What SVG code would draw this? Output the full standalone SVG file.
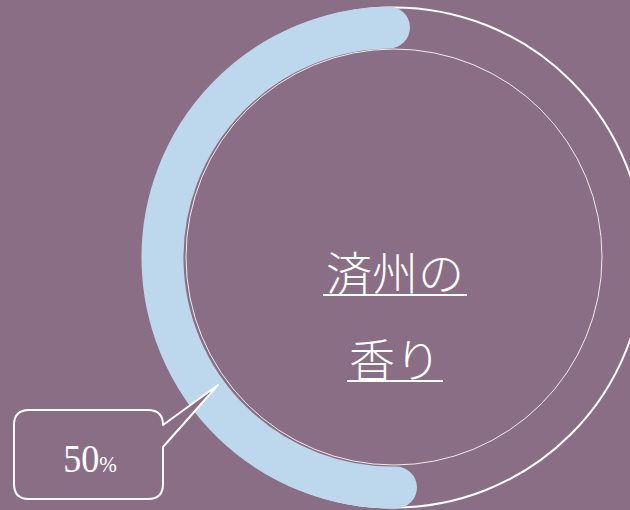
<svg xmlns="http://www.w3.org/2000/svg" width="630" height="510" viewBox="0 0 630 510">
  <style>
    .ring { fill: none; stroke: #ffffff; }
    .title { font-family: "Noto Sans CJK JP", "Noto Sans CJK SC", sans-serif; font-size: 46px; font-weight: 300; fill: #ffffff; text-anchor: middle; }
    .uline { stroke: #ffffff; stroke-width: 2; }
    .callout { fill: #8a6e85; stroke: #ffffff; stroke-width: 2; stroke-linejoin: round; }
    .num { font-family: "Liberation Serif", "Times New Roman", serif; fill: #ffffff; }
  </style>
  <rect x="0" y="0" width="630" height="510" fill="#8a6e85"/>
  <g id="outer-ring">
    <circle class="ring" cx="394" cy="257.5" r="250" stroke-width="2"/>
  </g>
  <g id="inner-ring">
    <circle class="ring" cx="394" cy="257" r="208" stroke-width="1" stroke-opacity="0.85"/>
  </g>
  <g id="progress-arc">
    <path d="M 389 27.5 A 230 230 0 0 0 396 487.5" fill="none" stroke="#bdd7ec" stroke-width="42" stroke-linecap="round"/>
  </g>
  <g id="center-label">
    <text class="title" x="395" y="290">済州の</text>
    <line class="uline" x1="323" y1="295" x2="467" y2="295"/>
    <text class="title" x="395" y="377">香り</text>
    <line class="uline" x1="347" y1="381" x2="443" y2="381"/>
  </g>
  <g id="callout">
    <path class="callout" d="M 29 410 L 148 410 Q 163 410 163 425 L 218 385 L 163 447 L 163 484 Q 163 499 148 499 L 29 499 Q 14 499 14 484 L 14 425 Q 14 410 29 410 Z"/>
    <text class="num" transform="translate(90,472) scale(0.88,1)" text-anchor="middle"><tspan font-size="41">50</tspan><tspan font-size="24">%</tspan></text>
  </g>
</svg>
